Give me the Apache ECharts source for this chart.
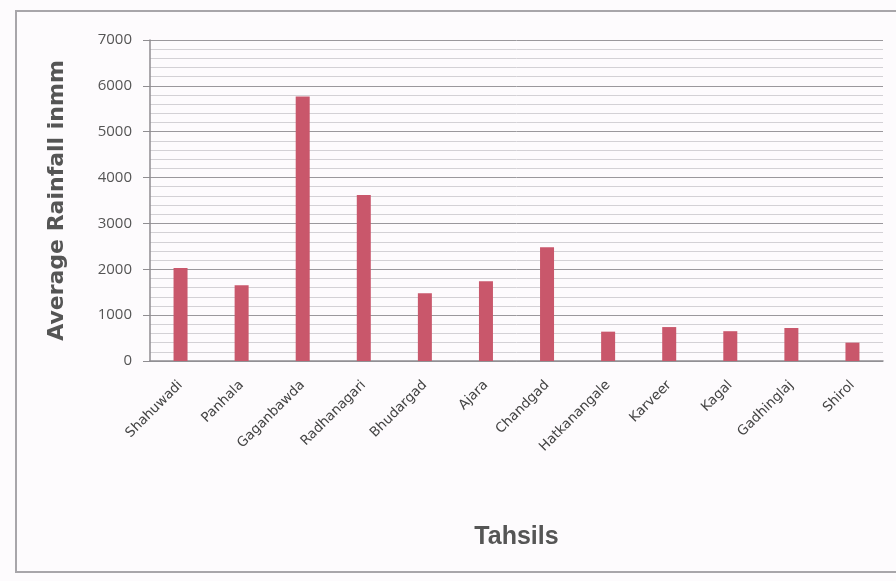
<!DOCTYPE html>
<html>
<head>
<meta charset="utf-8">
<script src="https://cdn.jsdelivr.net/npm/echarts@6/dist/echarts.min.js"></script>
<style>
  html, body { margin: 0; padding: 0; background: #fdfbfd; }
  #chart { width: 896px; height: 581px; }
</style>
</head>
<body>
<div id="chart"></div>
<script>
// tahsil names
const tahsils = ['Shahuwadi', 'Panhala', 'Gaganbawda', 'Radhanagari', 'Bhudargad', 'Ajara',
  'Chandgad', 'Hatkanangale', 'Karveer', 'Kagal', 'Gadhinglaj', 'Shirol'];

// average rainfall (mm)
const rainfall = [2030, 1650, 5770, 3620, 1480, 1740, 2480, 640, 740, 650, 720, 400];

// y axis range
const yMin = 0;
const yMax = 7000;
const yStep = 1000;

const chart = echarts.init(document.getElementById('chart'));

const option = {
  backgroundColor: '#fdfbfd',
  animation: false,
  grid: {
    left: 150,
    right: 13,
    top: 40,
    bottom: 220
  },
  // outer frame of the scanned figure
  graphic: [{
    type: 'rect',
    shape: { x: 16, y: 11, width: 900, height: 561 },
    style: { fill: 'none', stroke: '#a8a6aa', lineWidth: 2 },
    silent: true
  }],
  xAxis: {
    type: 'category',
    data: tahsils,
    name: 'Tahsils',
    nameLocation: 'middle',
    nameGap: 164,
    nameTextStyle: {
      fontFamily: 'Liberation Sans',
      fontWeight: 'bold',
      fontSize: 25,
      color: '#555'
    },
    axisLine: { lineStyle: { color: '#8f8d91', width: 1.5 } },
    axisTick: { show: false },
    axisLabel: {
      interval: 0,
      rotate: 45,
      margin: 22,
      fontFamily: 'DejaVu Sans',
      fontSize: 13.5,
      color: '#444'
    }
  },
  yAxis: {
    type: 'value',
    min: yMin,
    max: yMax,
    interval: yStep,
    name: 'Average Rainfall inmm',
    nameLocation: 'middle',
    nameGap: 82,
    nameTextStyle: {
      fontFamily: 'DejaVu Sans',
      fontWeight: 'bold',
      fontSize: 22,
      color: '#555'
    },
    axisLine: { show: true, lineStyle: { color: '#8f8d91', width: 1.5 } },
    axisTick: { show: true, length: 7, lineStyle: { color: '#8f8d91' } },
    axisLabel: {
      margin: 18,
      fontFamily: 'Open Sans',
      fontSize: 15,
      color: '#555',
      formatter: v => String(v)
    },
    splitLine: { lineStyle: { color: '#9a989c', width: 1 } },
    minorTick: { show: false, splitNumber: 5 },
    minorSplitLine: { show: true, lineStyle: { color: '#d3d1d5', width: 1 } }
  },
  series: [{
    type: 'bar',
    data: rainfall,
    barWidth: 14,
    itemStyle: { color: '#c9576b' }
  }]
};

chart.setOption(option);
</script>
</body>
</html>
